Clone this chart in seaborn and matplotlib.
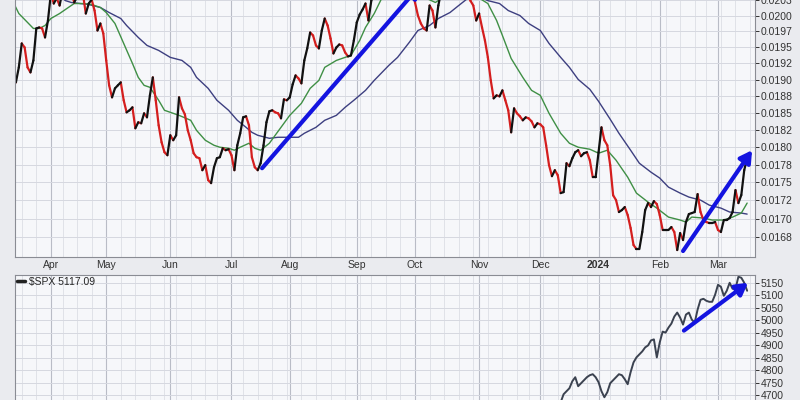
import numpy as np
import pandas as pd
import matplotlib
matplotlib.use('Agg')
import matplotlib.pyplot as plt
from matplotlib.lines import Line2D
from matplotlib.ticker import NullLocator
import seaborn as sns

# trading calendar (session index -> date)
holidays = ['2023-04-07', '2023-05-29', '2023-06-19', '2023-07-04', '2023-09-04',
            '2023-11-23', '2023-12-25', '2024-01-01', '2024-01-15', '2024-02-19']
days = pd.bdate_range('2023-03-15', '2024-04-30', freq='C', holidays=holidays)

# daily ratio, one value per session starting at session 0
price = [
    0.019064, 0.018958, 0.019187, 0.019558, 0.019495, 0.019187, 0.019110, 0.019294, 0.019794, 0.019810,
    0.019794, 0.019652, 0.019921, 0.020350, 0.020193, 0.020280, 0.020161, 0.020400, 0.020450, 0.020500,
    0.020400, 0.020210, 0.020300, 0.020400, 0.020350, 0.020032, 0.020193, 0.020257, 0.020080, 0.019762,
    0.019873, 0.019715, 0.019294, 0.018913, 0.018732, 0.018867, 0.018913, 0.018958, 0.018688, 0.018509,
    0.018539, 0.018583, 0.018274, 0.018362, 0.018347, 0.018494, 0.018435, 0.018762, 0.019034, 0.018688,
    0.018318, 0.018071, 0.017927, 0.017884, 0.018172, 0.018100, 0.018172, 0.018732, 0.018568, 0.018479,
    0.018244, 0.018100, 0.017913, 0.017856, 0.017841, 0.017671, 0.017742, 0.017531, 0.017489, 0.017713,
    0.017841, 0.017856, 0.017984, 0.017956, 0.017970, 0.017884, 0.017671, 0.018027, 0.018201, 0.018435,
    0.018450, 0.018318, 0.017856, 0.017713, 0.017671, 0.017770, 0.018027, 0.018362, 0.018524, 0.018539,
    0.018509, 0.018494, 0.018420, 0.018702, 0.018688, 0.018732, 0.018928, 0.019064, 0.019018, 0.018943,
    0.019294, 0.019480, 0.019730, 0.019683, 0.019527, 0.019480, 0.019762, 0.019952, 0.019841, 0.019636,
    0.019402, 0.019495, 0.019542, 0.019527, 0.019418, 0.019356, 0.019371, 0.019605, 0.019889, 0.020016,
    0.020096, 0.020193, 0.019921, 0.020241, 0.020450, 0.020600, 0.020700, 0.020600, 0.020800, 0.020900,
    0.020800, 0.020700, 0.020800, 0.020700, 0.020600, 0.020500, 0.020600, 0.020400, 0.020210, 0.020000,
    0.019873, 0.019794, 0.019762, 0.020161, 0.020080, 0.019810, 0.020161, 0.020400, 0.020500, 0.020600,
    0.020700, 0.020600, 0.020700, 0.020800, 0.020700, 0.020600, 0.020500, 0.020240, 0.020161, 0.019921,
    0.020032, 0.019810, 0.019605, 0.019341, 0.018988, 0.018717, 0.018762, 0.018747, 0.018837, 0.018688,
    0.018539, 0.018215, 0.018568, 0.018494, 0.018450, 0.018391, 0.018435, 0.018420, 0.018376, 0.018288,
    0.018347, 0.018332, 0.018288, 0.018027, 0.017742, 0.017587, 0.017671, 0.017600, 0.017350, 0.017364,
    0.017770, 0.017728, 0.017841, 0.017927, 0.017956, 0.017870, 0.017913, 0.017927, 0.017813, 0.017573,
    0.017573, 0.017927, 0.018288, 0.018100, 0.018027, 0.017742, 0.017320, 0.017253, 0.017089, 0.017116,
    0.017157, 0.017048, 0.016872, 0.016644, 0.016590, 0.016590, 0.016818, 0.017116, 0.017212, 0.017157,
    0.017239, 0.017198, 0.017048, 0.016845, 0.016845, 0.016845, 0.016885, 0.016818, 0.016577, 0.016804,
    0.016710, 0.016953, 0.017061, 0.017075, 0.017089, 0.017336, 0.017089, 0.016980, 0.016953, 0.016939,
    0.016939, 0.016953, 0.016845, 0.016818, 0.016980, 0.016980, 0.017007, 0.017089, 0.017392, 0.017212,
    0.017323, 0.017671, 0.017841,
]

# short moving average (green)
green_s = [0, 2, 5, 7, 9, 11, 13, 16, 19, 21, 24, 27, 30, 32, 35, 38, 41, 43, 45, 47,
           50, 52, 55, 57, 61, 63, 66, 69, 71, 74, 76, 78, 81, 83, 85, 88, 90, 92, 95, 99,
           102, 105, 107, 111, 114, 116, 119, 121, 124, 127, 132, 139, 145, 150, 156, 163, 166, 168, 171, 175,
           178, 181, 184, 188, 191, 194, 198, 201, 204, 207, 211, 214, 218, 221, 225, 229, 231, 233, 237, 240,
           244, 247, 250, 252]
green_v = [0.020225, 0.020032, 0.019889, 0.019794, 0.019794, 0.019841, 0.019952, 0.020032, 0.020129, 0.020193,
           0.020193, 0.020177, 0.020129, 0.020048, 0.019873, 0.019558, 0.019248, 0.019034, 0.018913, 0.018883,
           0.018688, 0.018539, 0.018494, 0.018464, 0.018391, 0.018244, 0.018100, 0.018027, 0.017999, 0.017984,
           0.017956, 0.017999, 0.018056, 0.017984, 0.017956, 0.018056, 0.018172, 0.018288, 0.018464, 0.018643,
           0.018867, 0.018988, 0.019187, 0.019294, 0.019341, 0.019371, 0.019605, 0.019810, 0.020032, 0.020320,
           0.020400, 0.020340, 0.020210, 0.020370, 0.020400, 0.020193, 0.019921, 0.019683, 0.019324, 0.019034,
           0.018837, 0.018762, 0.018494, 0.018201, 0.018056, 0.017999, 0.017970, 0.017913, 0.017956, 0.017813,
           0.017573, 0.017350, 0.017225, 0.017143, 0.017020, 0.016980, 0.016953, 0.017020, 0.017007, 0.016980,
           0.016980, 0.017020, 0.017075, 0.017212]

# long moving average (blue)
blue_s = [0, 8, 15, 18, 20, 23, 26, 30, 33, 37, 39, 43, 46, 50, 54, 58, 61, 63, 67, 70,
          74, 77, 80, 82, 84, 88, 91, 94, 98, 100, 104, 107, 111, 114, 117, 121, 124, 129, 132, 136,
          139, 143, 146, 150, 153, 156, 160, 163, 167, 170, 174, 177, 181, 184, 188, 191, 194, 198, 201, 205,
          208, 212, 215, 219, 222, 225, 229, 232, 236, 239, 243, 246, 250, 252]
blue_v = [0.020700, 0.020550, 0.020350, 0.020240, 0.020210, 0.020193, 0.020177, 0.020129, 0.020048, 0.019952,
          0.019841, 0.019652, 0.019527, 0.019449, 0.019341, 0.019294, 0.019187, 0.019034, 0.018867, 0.018688,
          0.018539, 0.018391, 0.018288, 0.018215, 0.018172, 0.018128, 0.018143, 0.018143, 0.018143, 0.018201,
          0.018288, 0.018391, 0.018464, 0.018583, 0.018688, 0.018837, 0.018988, 0.019217, 0.019341, 0.019573,
          0.019762, 0.019841, 0.019952, 0.020048, 0.020161, 0.020273, 0.020300, 0.020240, 0.020193, 0.020080,
          0.020000, 0.019873, 0.019762, 0.019558, 0.019341, 0.019187, 0.019003, 0.018853, 0.018673, 0.018406,
          0.018201, 0.017956, 0.017770, 0.017643, 0.017560, 0.017433, 0.017350, 0.017295, 0.017253, 0.017184,
          0.017143, 0.017089, 0.017075, 0.017061]

# S&P 500 close, sessions 186..252
spx_first = 186
spx = [4637, 4653, 4672, 4704, 4716, 4728, 4756, 4772, 4736, 4748,
       4760, 4772, 4780, 4784, 4772, 4752, 4716, 4692, 4712, 4748,
       4760, 4772, 4784, 4780, 4764, 4744, 4792, 4831, 4851, 4863,
       4875, 4891, 4899, 4919, 4923, 4851, 4911, 4954, 4950, 4970,
       4986, 5014, 5030, 5010, 4982, 5022, 5030, 5002, 4990, 5042,
       5081, 5085, 5077, 5073, 5073, 5101, 5141, 5133, 5097, 5117,
       5149, 5125, 5125, 5173, 5169, 5149, 5117.09]

top_ticks = [0.01675, 0.0170, 0.01725, 0.0175, 0.01775, 0.0180, 0.01825, 0.0185,
             0.01875, 0.0190, 0.01925, 0.0195, 0.01975, 0.0200, 0.02025]
top_labels = ['0.0168', '0.0170', '0.0172', '0.0175', '0.0178', '0.0180', '0.0182', '0.0185',
              '0.0188', '0.0190', '0.0192', '0.0195', '0.0197', '0.0200', '0.0203']
spx_ticks = [4700, 4750, 4800, 4850, 4900, 4950, 5000, 5050, 5100, 5150]

# trend arrows (session, value)
arrow_up1 = [(85.5, 0.017699), (139.7, 0.020485)]
arrow_up2 = [(230.0, 0.016564), (253.7, 0.017956)]
arrow_spx = [(230.3, 4958), (252.3, 5149)]

sns.set_style('white')
plt.rcParams['font.family'] = ['Liberation Sans', 'DejaVu Sans']

fig = plt.figure(figsize=(8, 4), dpi=100, facecolor='#eaebef')
ax = fig.add_axes([15 / 800, 143 / 400, 740 / 800, 257 / 400])
ax2 = fig.add_axes([15 / 800, 0, 740 / 800, 125 / 400])

# month / week grid positions
month_idx, month_lab, week_idx = [], [], []
for i in range(1, 258):
    if days[i].month != days[i - 1].month:
        month_idx.append(i)
        month_lab.append('2024' if days[i].month == 1 else days[i].strftime('%b'))
    if days[i].weekday() < days[i - 1].weekday():
        week_idx.append(i)

# price segments, black on up days, red on down days
p = np.array(price)
rows = []
for i in range(1, len(p)):
    d = 'up' if p[i] >= p[i - 1] else 'down'
    rows.append((i, i - 1, p[i - 1], d))
    rows.append((i, i, p[i], d))
seg = pd.DataFrame(rows, columns=['seg', 'session', 'value', 'dir'])

ax.set_yscale('log')
sns.lineplot(x=blue_s, y=blue_v, color='#3d3f80', linewidth=1.0, ax=ax)
sns.lineplot(x=green_s, y=green_v, color='#3f8f45', linewidth=1.0, ax=ax)
sns.lineplot(data=seg, x='session', y='value', units='seg', estimator=None, hue='dir',
             palette={'up': '#111111', 'down': '#d41e1e'}, linewidth=1.6,
             solid_capstyle='round', legend=False, ax=ax)

spx_df = pd.DataFrame({'session': np.arange(spx_first, spx_first + len(spx)), 'close': spx})
sns.lineplot(data=spx_df, x='session', y='close', color='#3b4250', linewidth=1.4, ax=ax2)

arrow_kw = dict(arrowstyle='-|>,head_length=0.7,head_width=0.4', color='#1414e0',
                lw=3.0, shrinkA=0, shrinkB=0)
for a, axx in [(arrow_up1, ax), (arrow_up2, ax), (arrow_spx, ax2)]:
    axx.annotate('', xy=a[1], xytext=a[0], arrowprops=arrow_kw, annotation_clip=False)

for axx in (ax, ax2):
    axx.set_facecolor('#f6f7fa')
    axx.set_xlim(0.69, 254.7)
    axx.set_xlabel('')
    axx.set_ylabel('')
    axx.set_axisbelow(True)
    axx.set_xticks(month_idx)
    axx.set_xticks(week_idx, minor=True)
    axx.grid(axis='x', which='major', color='#b9bcc6', linewidth=0.8)
    axx.grid(axis='x', which='minor', color='#dcdee5', linewidth=0.6)
    axx.grid(axis='y', which='major', color='#d6d8e0', linewidth=0.7)
    axx.yaxis.tick_right()
    axx.tick_params(axis='y', which='major', direction='out', length=3, width=0.7,
                    labelsize=7.5, colors='#333333', pad=1)
    axx.tick_params(axis='x', which='both', length=0)
    for sp in axx.spines.values():
        sp.set_color('#8a8c94')
        sp.set_linewidth(0.8)

ax.set_ylim(0.016485, 0.020241)
ax.set_yticks(top_ticks, top_labels)
ax.yaxis.set_minor_locator(NullLocator())
ax.set_xticklabels(month_lab, fontsize=7.5, color='#333333')
ax.tick_params(axis='x', pad=2)
for t in ax.get_xticklabels():
    if t.get_text() == '2024':
        t.set_fontweight('bold')
ax.spines['top'].set_visible(False)

ax2.set_ylim(4681, 5180)
ax2.set_yticks(spx_ticks, [str(v) for v in spx_ticks])
ax2.set_xticklabels([])
ax2.spines['bottom'].set_visible(False)
ax2.legend(handles=[Line2D([0], [0], color='#222222', lw=2.5)], labels=[r'\$SPX 5117.09'],
           loc='upper left', frameon=False, fontsize=7.5, handlelength=0.8,
           handletextpad=0.4, borderaxespad=0.05, borderpad=0.1)

fig.savefig('out.png', dpi=100, facecolor=fig.get_facecolor())
